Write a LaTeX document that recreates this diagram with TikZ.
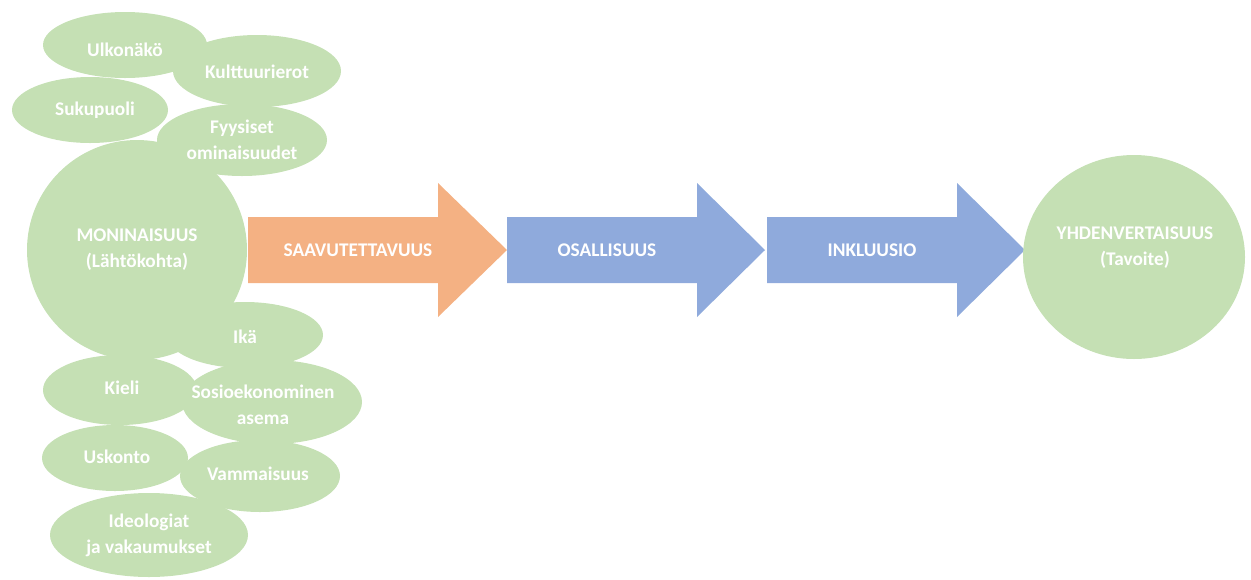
\documentclass[tikz,border=0pt]{standalone}
\usepackage{fontspec}
\setmainfont{Carlito}
\usetikzlibrary{shapes,positioning}
\definecolor{vihrea}{HTML}{C5E0B4}
\definecolor{oranssi}{HTML}{F4B183}
\definecolor{sininen}{HTML}{8FAADC}
\tikzset{teksti/.style={white, font=\bfseries\fontsize{11}{14.7}\selectfont, align=center, inner sep=0pt}}

\begin{document}
\begin{tikzpicture}[x=0.02cm, y=-0.02cm]
\useasboundingbox (0,0) rectangle (1251,579);
% lahtokohta ja sen osat
\fill[vihrea] (137,250) circle [radius=110];
\fill[vihrea] (125,45) ellipse [x radius=82, y radius=33];
\fill[vihrea] (257,71) ellipse [x radius=84, y radius=36];
\fill[vihrea] (90,110) ellipse [x radius=78, y radius=33];
\fill[vihrea] (242,140) ellipse [x radius=85, y radius=36];
\fill[vihrea] (245,335) ellipse [x radius=78, y radius=33];
\fill[vihrea] (120,390) ellipse [x radius=77, y radius=35];
\fill[vihrea] (272,402) ellipse [x radius=90, y radius=42];
\fill[vihrea] (115,458) ellipse [x radius=73, y radius=33];
\fill[vihrea] (260,476) ellipse [x radius=80, y radius=36];
\fill[vihrea] (149,535) ellipse [x radius=99, y radius=42];
% nuolet
\fill[oranssi] (248,217) -- (438,217) -- (438,183) -- (507,250) -- (438,317) -- (438,283) -- (248,283) -- cycle;
\fill[sininen] (507,217) -- (697,217) -- (697,183) -- (765,250) -- (697,317) -- (697,283) -- (507,283) -- cycle;
\fill[sininen] (767,217) -- (957,217) -- (957,183) -- (1025,250) -- (957,317) -- (957,283) -- (767,283) -- cycle;
% tavoite
\fill[vihrea] (1134,257) ellipse [x radius=111, y radius=102];
% tekstit
\node[teksti] (ulkonako) at (125,50) {Ulkonäkö};
\node[teksti] (kulttuuri) at (257,72) {Kulttuurierot};
\node[teksti] (sukupuoli) at (95,110) {Sukupuoli};
\node[teksti] (fyysiset) at (242,140) {Fyysiset\\ominaisuudet};
\node[teksti] (moninaisuus) at (137,250) {MONINAISUUS\\(Lähtökohta)};
\node[teksti] (ika) at (245,337) {Ikä};
\node[teksti] (kieli) at (122,388) {Kieli};
\node[teksti] (sosio) at (263,405) {Sosioekonominen\\asema};
\node[teksti] (uskonto) at (117,457) {Uskonto};
\node[teksti] (vammaisuus) at (258,474) {Vammaisuus};
\node[teksti] (ideologiat) at (149,535) {Ideologiat\\ja vakaumukset};
\node[teksti] (saavutettavuus) at (358,250) {SAAVUTETTAVUUS};
\node[teksti] (osallisuus) at (607,250) {OSALLISUUS};
\node[teksti] (inkluusio) at (872,250) {INKLUUSIO};
\node[teksti] (yhdenvertaisuus) at (1135,248) {YHDENVERTAISUUS\\(Tavoite)};
\end{tikzpicture}
\end{document}
